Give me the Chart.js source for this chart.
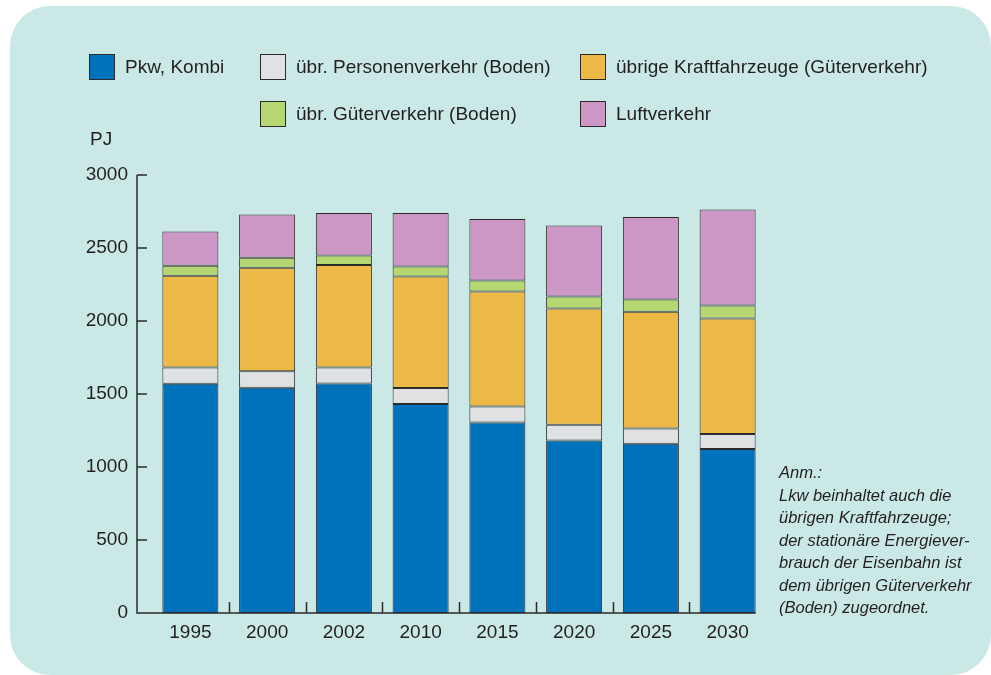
<!DOCTYPE html>
<html>
<head>
<meta charset="utf-8">
<script src="https://cdn.jsdelivr.net/npm/chart.js@4/dist/chart.umd.min.js"></script>
<style>
  body { margin: 0; background: #fff; width: 991px; height: 675px; overflow: hidden; position: relative; }
  #panel { position: absolute; left: 10px; top: 6px; width: 981px; height: 669px; background: #cae8e6; border-radius: 40px; }
  #chart { position: absolute; left: 0; top: 0; }
  #legend { position: absolute; left: 89px; top: 53px; display: grid; grid-template-columns: 171px 320px auto; row-gap: 20px;
            font-family: "Liberation Sans", Arial, sans-serif; font-size: 19px; color: #231f20; white-space: nowrap; }
  .item { display: flex; align-items: center; height: 27px; }
  .box { width: 24px; height: 24px; border: 1.5px solid #2b2b2b; margin-right: 10px; flex: none; }
  #unit { position: absolute; left: 90px; top: 128px; font-family: "Liberation Sans", Arial, sans-serif; font-size: 19px; color: #231f20; }
  #note { position: absolute; left: 779px; top: 461px; font-family: "Liberation Sans", Arial, sans-serif; font-style: italic;
          font-size: 16.5px; line-height: 22.5px; color: #231f20; }
</style>
</head>
<body>
<div id="panel"></div>
<canvas id="chart" width="991" height="675"></canvas>
<div id="legend"></div>
<div id="unit">PJ</div>
<div id="note">Anm.:<br>Lkw beinhaltet auch die<br>übrigen Kraftfahrzeuge;<br>der stationäre Energiever-<br>brauch der Eisenbahn ist<br>dem übrigen Güterverkehr<br>(Boden) zugeordnet.</div>
<script>
"use strict";
// Energieverbrauch Verkehr in PJ
var years = ['1995', '2000', '2002', '2010', '2015', '2020', '2025', '2030'];
var pkwKombi       = [1570, 1543, 1572, 1431, 1305, 1182, 1159, 1123];
var personenBoden  = [112, 112, 110, 110, 110, 107, 105, 103];
var kraftfahrzeuge = [628, 710, 701, 764, 787, 797, 799, 791];
var gueterBoden    = [68, 68, 66, 69, 76, 82, 85, 89];
var luftverkehr    = [235, 297, 290, 365, 420, 486, 564, 658];
var yTicks = [0, 500, 1000, 1500, 2000, 2500, 3000];

var series = [
    { label: 'Pkw, Kombi', data: pkwKombi, color: '#0071bb', slot: [1, 1] },
    { label: 'übr. Personenverkehr (Boden)', data: personenBoden, color: '#dfe1e3', slot: [1, 2] },
    { label: 'übrige Kraftfahrzeuge (Güterverkehr)', data: kraftfahrzeuge, color: '#ecb947', slot: [1, 3] },
    { label: 'übr. Güterverkehr (Boden)', data: gueterBoden, color: '#b6d671', slot: [2, 2] },
    { label: 'Luftverkehr', data: luftverkehr, color: '#cd97c5', slot: [2, 3] }
];

// legend
var legend = document.getElementById('legend');
series.forEach((s) => {
    var item = document.createElement('div');
    item.className = 'item';
    item.style.gridRow = s.slot[0];
    item.style.gridColumn = s.slot[1];
    item.innerHTML = '<span class="box" style="background:' + s.color + '"></span>' + s.label;
    legend.appendChild(item);
});

var ink = '#2b2b2b';
var tickFont = { family: '"Liberation Sans", Arial, sans-serif', size: 19 };

// axis lines + inside tick marks
var axesPlugin = {
    id: 'axes',
    afterDatasetsDraw: (chart) => {
        var ctx = chart.ctx, x = chart.scales.x, y = chart.scales.y;
        var meta = chart.getDatasetMeta(0);
        var axisX = chart.chartArea.left - 15;
        var y0 = y.getPixelForValue(0);
        var last = meta.data[meta.data.length - 1];
        var right = last.x + last.width / 2;
        ctx.save();
        ctx.strokeStyle = ink;
        ctx.lineWidth = 1.5;
        ctx.beginPath();
        ctx.moveTo(axisX, y.getPixelForValue(3000));
        ctx.lineTo(axisX, y0);
        ctx.lineTo(right, y0);
        yTicks.forEach((v) => {
            var py = y.getPixelForValue(v);
            ctx.moveTo(axisX, py);
            ctx.lineTo(axisX + 10, py);
        });
        for (var i = 0; i < years.length - 1; i++) {
            var px = Math.round((x.getPixelForValue(i) + x.getPixelForValue(i + 1)) / 2) + 0.5;
            ctx.moveTo(px, y0);
            ctx.lineTo(px, y0 - 11);
        }
        ctx.stroke();
        ctx.restore();
    }
};

new Chart(document.getElementById('chart'), {
    type: 'bar',
    data: {
        labels: years,
        datasets: series.map((s) => ({
            label: s.label,
            data: s.data,
            backgroundColor: s.color,
            borderColor: ink,
            borderWidth: 1,
            borderSkipped: false,
            categoryPercentage: 1,
            barPercentage: 0.73
        }))
    },
    options: {
        responsive: false,
        animation: false,
        devicePixelRatio: 1,
        layout: { padding: { left: 0, top: 175, right: 225, bottom: 0 } },
        plugins: { legend: { display: false }, tooltip: { enabled: false } },
        scales: {
            x: {
                stacked: true,
                grid: { display: false },
                border: { display: false },
                ticks: { color: '#231f20', font: tickFont, padding: 0 },
                afterFit: (scale) => { scale.height = 62; }
            },
            y: {
                stacked: true,
                min: 0,
                max: 3000,
                grid: { display: false },
                border: { display: false },
                ticks: { color: '#231f20', font: tickFont, padding: 16, stepSize: 500,
                         callback: (v) => String(v) },
                afterFit: (scale) => { scale.width = 152; }
            }
        }
    },
    plugins: [axesPlugin]
});
</script>
</body>
</html>
